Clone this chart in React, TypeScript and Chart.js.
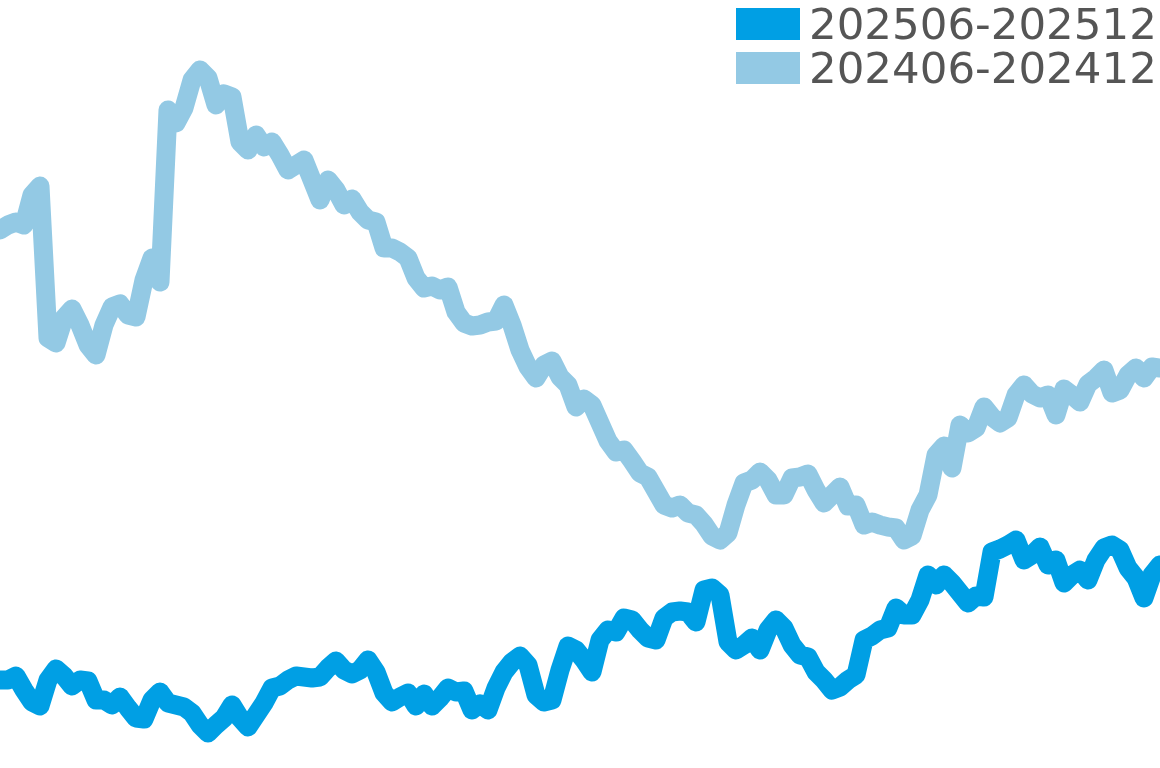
import { useEffect, useRef } from 'react';
import { Chart, registerables, type ChartConfiguration } from 'chart.js';

Chart.register(...registerables);

const SERIES_2025 = '202506-202512';
const SERIES_2024 = '202406-202412';

const values2025 = [
  8.8, 8.8, 9.2, 7.8, 6.6, 6.2, 8.8, 9.9, 9.2, 8.2,
  8.8, 8.7, 6.8, 6.8, 6.3, 7.1, 6.0, 5.0, 4.9, 6.8,
  7.6, 6.5, 6.3, 6.1, 5.5, 4.3, 3.5, 4.3, 5.0, 6.3,
  5.0, 4.1, 5.3, 6.5, 8.0, 8.2, 8.8, 9.2, 9.1, 9.0,
  9.1, 10.0, 10.7, 9.8, 9.4, 9.8, 10.8, 9.6, 7.5, 6.6,
  7.1, 7.5, 6.2, 7.4, 6.2, 7.0, 8.0, 7.6, 7.7, 5.8,
  6.4, 5.8, 8.0, 9.6, 10.6, 11.2, 10.3, 7.3, 6.6, 6.8,
  9.8, 12.2, 11.8, 10.8, 9.6, 12.8, 13.8, 13.6, 15.0, 14.8,
  13.8, 13.0, 12.8, 15.0, 15.6, 15.7, 15.6, 14.6, 17.8, 18.0,
  17.3, 12.6, 11.8, 12.3, 13.0, 11.8, 13.8, 14.8, 14.0, 12.3,
  11.3, 11.1, 9.6, 8.8, 7.8, 8.1, 8.8, 9.3, 12.8, 13.2,
  13.8, 14.0, 16.0, 15.3, 15.3, 16.8, 19.3, 18.3, 19.3, 18.5,
  17.5, 16.5, 17.2, 17.1, 21.6, 21.9, 22.3, 22.8, 20.8, 21.3,
  22.1, 20.3, 20.8, 18.5, 19.3, 19.8, 18.8, 20.8, 22.0, 22.3,
  21.8, 20.0, 19.0, 17.0, 19.3, 20.3,
];

const values2024 = [
  53.8, 54.3, 54.6, 54.3, 57.3, 58.2, 43.0, 42.5, 45.0, 45.9,
  44.3, 42.3, 41.3, 44.3, 46.1, 46.4, 45.3, 45.1, 48.8, 51.0,
  48.6, 65.8, 64.5, 66.0, 68.8, 69.8, 69.0, 66.3, 67.4, 67.1,
  62.6, 61.8, 63.3, 62.1, 62.6, 61.3, 59.8, 60.3, 60.8, 58.8,
  56.8, 58.8, 57.8, 56.3, 56.9, 55.6, 54.8, 54.6, 52.0, 52.0,
  51.6, 51.0, 49.0, 48.0, 48.2, 47.8, 48.1, 45.6, 44.5, 44.2,
  44.3, 44.6, 44.7, 46.3, 44.3, 41.8, 40.1, 39.0, 40.3, 40.7,
  39.1, 38.3, 36.1, 36.9, 36.3, 34.5, 32.7, 31.6, 31.8, 30.7,
  29.5, 29.1, 27.7, 26.3, 26.0, 26.3, 25.5, 25.3, 24.4, 23.2,
  22.8, 23.5, 26.3, 28.5, 28.8, 29.6, 28.8, 27.3, 27.3, 29.0,
  29.1, 29.4, 27.8, 26.5, 27.3, 28.1, 26.2, 26.3, 24.3, 24.6,
  24.3, 24.1, 24.0, 22.8, 23.2, 25.8, 27.3, 31.3, 32.2, 30.0,
  34.3, 33.5, 34.0, 36.1, 35.1, 34.5, 35.0, 37.3, 38.3, 37.4,
  37.0, 37.3, 35.3, 37.9, 37.3, 36.6, 38.4, 39.0, 39.8, 37.5,
  37.8, 39.3, 40.0, 39.0, 40.1, 40.0,
];

const labels = values2025.map((_, i) => String(i + 1));

const COLOR_2025 = '#009fe4';
const COLOR_2024 = '#93c9e4';
const LINE_WIDTH = 19;

export default function App() {
  const canvasRef = useRef<HTMLCanvasElement>(null);

  useEffect(() => {
    document.body.style.margin = '0';
    if (!canvasRef.current) return;

    const config: ChartConfiguration<'line'> = {
      type: 'line',
      data: {
        labels,
        datasets: [
          {
            label: SERIES_2025,
            data: values2025,
            borderColor: COLOR_2025,
            backgroundColor: COLOR_2025,
            borderWidth: LINE_WIDTH,
            borderJoinStyle: 'round',
            borderCapStyle: 'round',
            pointRadius: 0,
            tension: 0,
            fill: false,
          },
          {
            label: SERIES_2024,
            data: values2024,
            borderColor: COLOR_2024,
            backgroundColor: COLOR_2024,
            borderWidth: LINE_WIDTH,
            borderJoinStyle: 'round',
            borderCapStyle: 'round',
            pointRadius: 0,
            tension: 0,
            fill: false,
          },
        ],
      },
      options: {
        responsive: true,
        maintainAspectRatio: false,
        animation: false,
        layout: { padding: 0 },
        plugins: {
          legend: { display: false },
          tooltip: { enabled: false },
        },
        scales: {
          x: { display: false, offset: false },
          y: { display: false, min: 0, max: 76.8 },
        },
      },
    };

    const chart = new Chart(canvasRef.current, config);
    return () => chart.destroy();
  }, []);

  const legend = [
    { name: SERIES_2025, color: COLOR_2025 },
    { name: SERIES_2024, color: COLOR_2024 },
  ];

  return (
    <div style={{ position: 'relative', width: 1160, height: 768, background: '#fff' }}>
      <canvas ref={canvasRef} />
      <div style={{ position: 'absolute', left: 736, top: 2 }}>
        {legend.map((s) => (
          <div key={s.name} style={{ display: 'flex', alignItems: 'center', height: 44 }}>
            <div style={{ width: 64, height: 32, background: s.color }} />
            <span
              style={{
                marginLeft: 9,
                fontFamily: "'DejaVu Sans', sans-serif",
                fontSize: 43.5,
                lineHeight: '44px',
                color: '#555555',
                whiteSpace: 'nowrap',
              }}
            >
              {s.name}
            </span>
          </div>
        ))}
      </div>
    </div>
  );
}
